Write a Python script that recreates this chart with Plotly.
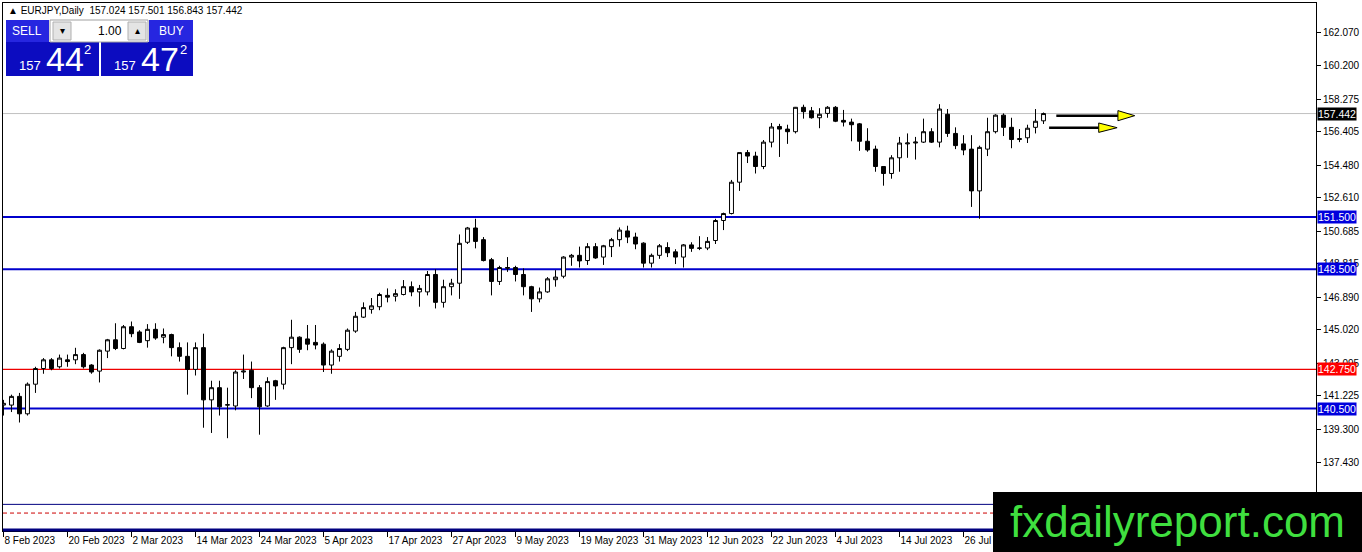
import pandas as pd
import plotly.graph_objects as go

# EURJPY daily, 8 Feb 2023 .. 9 Aug 2023
opens = [140.7, 140.7, 141.2, 140.2, 141.9, 142.8, 143.3, 142.9, 143.3, 143.3,
         143.6, 143.0, 142.65, 143.8, 144.45, 143.95, 145.2, 144.9, 144.4, 145.05,
         144.6, 144.75, 144.0, 143.5, 142.75, 144.0, 141.0, 141.7, 140.7, 140.65,
         142.6, 142.7, 141.7, 140.65, 142.1, 141.9, 144.0, 144.6, 144.5, 144.3,
         144.2, 143.0, 143.5, 143.9, 144.95, 145.75, 146.2, 146.35, 147.0, 146.95,
         147.05, 147.5, 147.2, 147.2, 148.2, 146.6, 147.5, 147.7, 150.05, 150.87,
         150.2, 149.05, 147.8, 148.55, 148.6, 148.2, 147.5, 146.8, 147.2, 147.9,
         148.1, 149.2, 149.3, 149.0, 149.8, 149.2, 149.8, 150.2, 150.7, 150.35,
         150.0, 148.85, 149.3, 149.75, 149.5, 149.2, 149.9, 149.7, 149.72, 150.15,
         151.3, 151.7, 153.5, 155.2, 155.0, 154.4, 155.8, 156.7, 156.55, 156.4,
         157.8, 157.6, 157.2, 157.45, 157.8, 157.05, 156.95, 156.85, 155.85, 155.4,
         154.4, 154.0, 154.9, 155.7, 155.75, 155.8, 156.4, 155.8, 157.4, 156.3,
         155.7, 155.4, 153.0, 155.4, 156.4, 157.35, 156.65, 155.95, 156.05, 156.65,
         157.024]
highs = [141.0, 141.3, 141.4, 142.0, 142.9, 143.4, 143.4, 143.6, 143.6, 143.99,
         143.7, 143.05, 143.9, 144.5, 145.4, 145.3, 145.5, 145.0, 145.35, 145.4,
         145.1, 144.8, 144.3, 144.3, 144.3, 144.8, 142.1, 142.1, 141.7, 142.7,
         143.6, 143.2, 141.85, 142.3, 142.15, 144.05, 145.6, 144.65, 145.3, 145.3,
         144.3, 143.9, 144.2, 145.1, 146.05, 146.6, 146.85, 147.15, 147.4, 147.35,
         147.88, 147.8, 147.6, 148.4, 148.5, 147.9, 147.95, 150.5, 150.93, 151.4,
         150.35, 149.15, 148.7, 149.2, 148.7, 148.55, 147.55, 147.45, 148.05, 148.45,
         149.25, 149.38, 149.8, 150.0, 150.0, 149.9, 150.3, 150.9, 151.0, 150.6,
         150.05, 149.4, 149.95, 150.05, 149.65, 149.95, 150.05, 150.4, 150.35, 151.4,
         151.75, 153.63, 155.2, 155.35, 155.25, 155.92, 156.9, 156.85, 156.8, 157.82,
         157.95, 157.82, 157.75, 157.87, 157.87, 157.65, 157.15, 156.9, 156.6, 155.6,
         154.4, 155.05, 156.1, 156.3, 156.1, 157.15, 156.6, 157.98, 157.7, 156.65,
         156.2, 156.2, 155.6, 157.2, 157.4, 157.45, 157.2, 156.55, 156.8, 157.7,
         157.501]
lows = [140.1, 140.3, 139.7, 140.1, 141.4, 142.5, 142.7, 142.8, 142.9, 143.05,
        142.8, 142.5, 142.0, 143.4, 143.86, 143.9, 144.6, 144.26, 144.0, 144.45,
        144.25, 143.5, 143.2, 141.3, 142.4, 139.4, 139.1, 140.1, 138.8, 140.4,
        142.2, 141.1, 139.0, 140.6, 141.0, 141.6, 143.05, 143.7, 143.85, 143.9,
        142.6, 142.5, 143.2, 143.8, 144.85, 145.7, 145.95, 146.15, 146.6, 146.65,
        147.0, 146.95, 146.35, 147.0, 146.25, 146.3, 147.0, 146.8, 149.95, 149.7,
        148.95, 147.0, 147.6, 148.35, 147.8, 147.0, 146.05, 146.6, 147.15, 147.5,
        147.98, 148.7, 148.6, 148.75, 149.1, 148.75, 149.2, 149.8, 150.0, 149.65,
        148.6, 148.6, 149.1, 149.2, 148.8, 148.6, 149.5, 149.6, 149.6, 149.95,
        150.75, 151.65, 153.0, 154.6, 154.0, 154.25, 155.5, 154.95, 155.7, 156.3,
        157.15, 157.15, 156.6, 157.2, 156.95, 156.7, 155.85, 155.3, 155.25, 154.1,
        153.3, 153.7, 154.1, 154.9, 154.8, 155.75, 155.75, 155.5, 156.1, 155.4,
        155.05, 152.08, 151.4, 155.0, 156.3, 156.15, 155.45, 155.8, 155.75, 156.3,
        156.843]
closes = [140.8, 141.2, 140.2, 141.9, 142.8, 143.3, 142.8, 143.4, 143.2, 143.6,
          142.9, 142.6, 143.85, 144.45, 143.95, 145.2, 144.8, 144.3, 145.05, 144.55,
          144.75, 144.0, 143.5, 142.75, 144.0, 141.0, 141.7, 140.6, 140.72, 142.6,
          142.65, 141.7, 140.6, 142.05, 141.8, 144.0, 144.6, 143.9, 144.2, 144.15,
          143.0, 143.8, 143.95, 145.0, 145.8, 146.3, 146.4, 147.05, 146.9, 147.1,
          147.5, 147.2, 147.4, 148.2, 146.6, 147.5, 147.7, 149.99, 150.87, 150.1,
          149.0, 147.8, 148.6, 148.6, 148.2, 147.5, 146.8, 147.2, 147.95, 148.05,
          149.2, 149.3, 148.98, 149.8, 149.15, 149.85, 150.2, 150.75, 150.35, 149.95,
          148.85, 149.3, 149.85, 149.45, 149.2, 149.9, 149.7, 149.72, 150.1, 151.3,
          151.7, 153.5, 155.2, 155.0, 154.4, 155.8, 156.67, 156.55, 156.4, 157.8,
          157.55, 157.2, 157.4, 157.8, 157.0, 156.95, 156.8, 155.85, 155.35, 154.4,
          154.0, 154.9, 155.75, 155.75, 155.8, 156.4, 155.8, 157.7, 156.3, 155.6,
          155.35, 153.0, 155.5, 156.4, 157.35, 156.65, 155.95, 156.0, 156.6, 157.0,
          157.442]

dates = pd.bdate_range("2023-02-08", periods=len(closes))
bars = list(range(len(closes)))
date_ticks = bars[:121:8]
date_labels = [f"{dates[i].day} {dates[i].strftime('%b %Y')}" for i in date_ticks]

price_ticks = [162.070, 160.200, 158.275, 156.405, 154.480, 152.610, 150.685,
               148.815, 146.890, 145.020, 143.095, 141.225, 139.300, 137.430]

blue_levels = [151.5, 148.5, 140.5]
red_level = 142.75
last_price = 157.442

# plot area in pixels (for placing panel items)
PL, PT, PW, PH = 3, 3, 1313, 528


def px(x):
    return (x - PL) / PW


def py(y):
    return (PT + PH - y) / PH


fig = go.Figure(go.Candlestick(
    x=bars, open=opens, high=highs, low=lows, close=closes,
    increasing=dict(line=dict(color="black", width=1), fillcolor="white"),
    decreasing=dict(line=dict(color="black", width=1), fillcolor="black"),
    whiskerwidth=0, hoverinfo="skip", showlegend=False))

shapes = []
for lv in blue_levels:
    shapes.append(dict(type="line", xref="paper", x0=0, x1=1, yref="y", y0=lv, y1=lv,
                       line=dict(color="#0000cc", width=2), layer="below"))
shapes.append(dict(type="line", xref="paper", x0=0, x1=1, yref="y", y0=red_level, y1=red_level,
                   line=dict(color="#ee0000", width=1.2), layer="below"))
shapes.append(dict(type="line", xref="paper", x0=0, x1=1, yref="y", y0=last_price, y1=last_price,
                   line=dict(color="#c0c0c0", width=1), layer="below"))
# lines near the bottom
shapes.append(dict(type="line", xref="paper", x0=0, x1=1, yref="y", y0=135.0, y1=135.0,
                   line=dict(color="#000080", width=1)))
shapes.append(dict(type="line", xref="paper", x0=0, x1=1, yref="y", y0=134.5, y1=134.5,
                   line=dict(color="#cc0000", width=1, dash="4px,3px")))
shapes.append(dict(type="line", xref="paper", x0=0, x1=1, yref="paper", y0=0.002, y1=0.002,
                   line=dict(color="#000080", width=3)))

# arrows
arrows = [(131.6, 139.3, 141.4, 157.32, 0.29), (130.7, 136.9, 139.2, 156.63, 0.27)]
for x0, xh, xt, yv, hh in arrows:
    shapes.append(dict(type="line", x0=x0, x1=xh, y0=yv, y1=yv,
                       line=dict(color="black", width=2.5)))
    shapes.append(dict(type="path",
                       path=f"M {xh},{yv + hh} L {xt},{yv} L {xh},{yv - hh} Z",
                       fillcolor="#ffff00", line=dict(color="black", width=1)))


def rect(x0, y0, x1, y1, fill, line="rgba(0,0,0,0)", lw=0):
    shapes.append(dict(type="rect", xref="paper", yref="paper",
                       x0=px(x0), x1=px(x1), y0=py(y1), y1=py(y0),
                       fillcolor=fill, line=dict(color=line, width=lw), layer="above"))


# one-click trade panel
rect(6, 20, 49, 42, "#2626e0")
rect(6, 42, 99, 76, "#0c0cc0")
rect(149, 20, 193, 42, "#2626e0")
rect(101, 42, 193, 76, "#0c0cc0")
rect(50, 20, 148, 42, "white", "#a0a0a0", 1)
rect(53, 22, 71, 40, "#e4e4e4", "#b0b0b0", 1)
rect(128, 22, 146, 40, "#e4e4e4", "#b0b0b0", 1)
# watermark box
rect(993, 492, 1362, 552, "black")

ann = []


def text(x, y, s, size, color="white", xanchor="left", yanchor="middle"):
    ann.append(dict(xref="paper", yref="paper", x=px(x), y=py(y), text=s, showarrow=False,
                    xanchor=xanchor, yanchor=yanchor,
                    font=dict(family="Liberation Sans, Arial", size=size, color=color)))


text(6, 10.5, "▲ EURJPY,Daily  157.024 157.501 156.843 157.442", 10, "black")
text(27, 31, "SELL", 12, xanchor="center")
text(171, 31, "BUY", 12, xanchor="center")
text(62, 31, "▾", 10, "black", xanchor="center")
text(137, 31, "▴", 10, "black", xanchor="center")
text(124, 31, "1.00", 12, "black", xanchor="right")
text(43, 66, "157", 13, xanchor="right")
text(44, 59, "44", 34)
text(82, 50, "2", 13)
text(138, 66, "157", 13, xanchor="right")
text(139, 59, "47", 34)
text(178, 50, "2", 13)
text(1177, 521, "fxdailyreport.com", 44, "#3fdf3f", xanchor="center")

# price labels on the right axis
for lv, bg in [(last_price, "black"), (151.5, "#0000dd"), (148.5, "#0000dd"),
               (red_level, "#ff0000"), (140.5, "#0000dd")]:
    ann.append(dict(xref="paper", yref="y", x=1, y=lv, xanchor="left", xshift=1,
                    text=f"{lv:.3f}", showarrow=False, bgcolor=bg, borderpad=0,
                    font=dict(family="Liberation Sans, Arial", size=10.5, color="white")))

fig.update_layout(
    width=1362, height=552,
    margin=dict(l=PL, r=1362 - PL - PW, t=PT, b=552 - PT - PH, autoexpand=False),
    paper_bgcolor="white", plot_bgcolor="white",
    shapes=shapes, annotations=ann,
    font=dict(family="Liberation Sans, Arial", size=10, color="black"),
    xaxis=dict(range=[-0.06, 164.06], rangeslider=dict(visible=False),
               tickvals=date_ticks, ticktext=date_labels, ticks="outside", ticklen=5,
               tickcolor="black", ticklabelposition="outside right", tickangle=0,
               automargin=False,
               showgrid=False, zeroline=False, showline=True, linecolor="black",
               mirror=True, fixedrange=True),
    yaxis=dict(range=[133.47, 163.79], side="right", automargin=False,
               tickvals=price_ticks, ticktext=[f"{v:.3f}" for v in price_ticks],
               ticks="outside", ticklen=4, tickcolor="black",
               showgrid=False, zeroline=False, showline=True, linecolor="black",
               mirror=True, fixedrange=True),
)

fig.write_html("out.html", config={"displayModeBar": False},
               post_script="document.body.style.margin='0px';")
